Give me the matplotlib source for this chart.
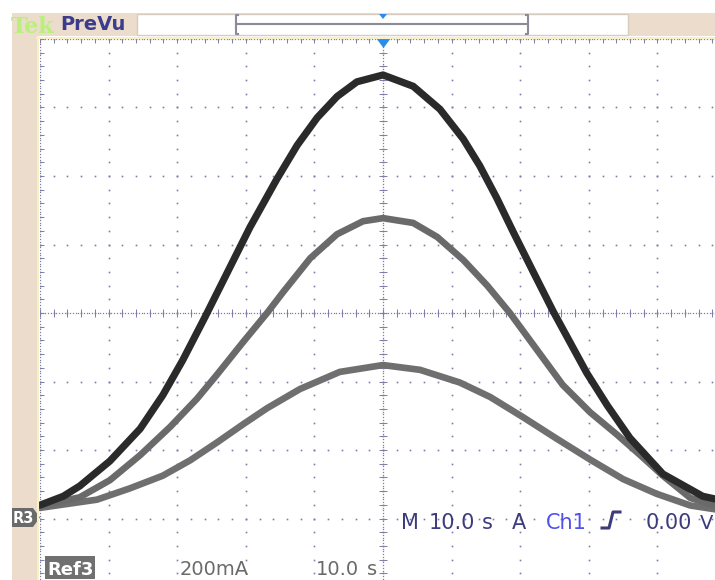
import numpy as np
import matplotlib
matplotlib.use('Agg')
import matplotlib.pyplot as plt
from matplotlib.patches import Rectangle, Polygon

# reference traces, time in s, current in mA (200 mA/div, 10 s/div)
t_black = [0, 3.4, 5.8, 10.2, 14.6, 17.9, 20.8, 24.1, 28.1, 30.6, 34.5, 37.5, 40.4,
           43.3, 46.2, 50.0, 54.4, 58.3, 61.7, 64.1, 66.6, 68.9, 71.9, 74.8, 79.7,
           82.7, 86.0, 90.8, 96.6, 100]
i_black = [39, 65, 95, 168, 262, 360, 462, 590, 750, 850, 990, 1090, 1170,
           1232, 1275, 1295, 1262, 1195, 1108, 1030, 935, 840, 720, 605, 425,
           330, 235, 130, 65, 50]

t_mid = [0, 5.8, 10.2, 14.6, 19.0, 22.9, 25.8, 29.6, 33.1, 35.4, 39.4, 43.3, 47.1,
         50.0, 54.4, 57.9, 61.7, 65.2, 68.5, 72.9, 76.2, 80.2, 84.1, 87.5,
         90.8, 94.8, 100]
i_mid = [36, 62, 112, 185, 268, 350, 420, 515, 600, 660, 760, 830, 868,
         877, 863, 822, 755, 680, 600, 480, 390, 310, 245, 185,
         125, 60, 28]

t_low = [0, 8.3, 13.1, 17.9, 21.9, 25.8, 29.6, 33.1, 37.9, 43.7, 50.0, 55.4, 61.2,
         65.6, 70.4, 75.4, 80.2, 85.0, 89.9, 94.8, 100]
i_low = [31, 55, 88, 125, 170, 222, 275, 322, 378, 428, 448, 434, 397,
         355, 296, 232, 172, 115, 72, 38, 22]

beige = '#ecdccb'
dot = '#7c7cac'
txt_blue = '#3c3c7c'
txt_gray = '#6a6a6a'

fig = plt.figure(figsize=(7.15, 5.8), dpi=100)

# graticule axes: 10 div x 8 div, ground of Ref3 three divisions below centre
ax = fig.add_axes([40/715, -7/580, 686/715, 548/580])
ax.set_xlim(0, 100)
ax.set_ylim(-200, 1400)
ax.axis('off')

# dotted grid
for tv in np.arange(0, 101, 10):
    yy = np.arange(-200, 1401, 40)
    ax.plot(np.full(yy.shape, tv), yy, ls='none', marker='s', ms=1.2, mew=0, color=dot, zorder=1)
for iv in np.arange(-200, 1401, 200):
    xx = np.arange(0, 101, 2)
    ax.plot(xx, np.full(xx.shape, iv), ls='none', marker='s', ms=1.2, mew=0, color=dot, zorder=1)

# centre cross and border lines, denser with minor ticks
xx = np.arange(0, 100.1, 0.4)
yy = np.arange(-200, 1400.1, 8)
for iv in [600, 1400]:
    ax.plot(xx, np.full(xx.shape, iv), ls='none', marker='s', ms=0.9, mew=0, color=dot, zorder=1)
for tv in [0, 50]:
    ax.plot(np.full(yy.shape, tv), yy, ls='none', marker='s', ms=0.9, mew=0, color=dot, zorder=1)
mx = np.arange(0, 100.1, 2)
my = np.arange(-200, 1400.1, 40)
ax.vlines(mx, 588, 612, color=dot, lw=0.7, zorder=1)
ax.hlines(my, 49.4, 50.6, color=dot, lw=0.7, zorder=1)
ax.vlines(mx, 1388, 1400, color=dot, lw=0.7, zorder=1)
ax.hlines(my, 0, 0.6, color=dot, lw=0.7, zorder=1)

# traces
ax.plot(t_low, i_low, color='#6f6f6f', lw=4.8, solid_joinstyle='round', solid_capstyle='round', zorder=3, clip_on=False)
ax.plot(t_mid, i_mid, color='#6a6a6a', lw=4.8, solid_joinstyle='round', solid_capstyle='round', zorder=4, clip_on=False)
ax.plot(t_black, i_black, color='#2a2a2a', lw=5.2, solid_joinstyle='round', solid_capstyle='round', zorder=5, clip_on=False)

# decoration layer in pixel coordinates
bg = fig.add_axes([0, 0, 1, 1], zorder=3)
bg.set_xlim(0, 715)
bg.set_ylim(580, 0)
bg.axis('off')

bg.add_patch(Rectangle((12, 13), 703, 23, color=beige, lw=0))
bg.add_patch(Rectangle((12, 13), 25, 567, color=beige, lw=0))
bg.plot([37, 715], [37.5, 37.5], color='#f6f0c4', lw=1.5)
bg.plot([38, 38], [37, 580], color='#f6f0c4', lw=1.5)
bg.add_patch(Rectangle((137, 14), 491, 21, facecolor='white', edgecolor='#d8ccc0', lw=1))

# record view bracket
bg.plot([236, 528], [24, 24], color='#8a8a98', lw=1.5)
bg.plot([238, 236, 236, 238], [15, 15, 34, 34], color='#8a8a98', lw=1.5)
bg.plot([526, 528, 528, 526], [15, 15, 34, 34], color='#8a8a98', lw=1.5)
bg.add_patch(Polygon([(379, 14), (387, 14), (383, 19)], color='#2a8cf0', lw=0))
bg.add_patch(Polygon([(376, 38), (391, 38), (383.5, 48)], color='#2a8cf0', lw=0))

bg.text(11, 33, 'Tek', color='#b8f07a', fontsize=16, family='DejaVu Serif', weight='bold', va='baseline')
bg.text(60, 30, 'PreVu', color='#3c3c8c', fontsize=14, weight='bold', va='baseline')

# R3 ground marker
bg.add_patch(Polygon([(12, 508), (33, 508), (40, 517.5), (33, 527), (12, 527)], color='#6a6a6a', lw=0))
bg.text(13, 523, 'R3', color='white', fontsize=10.5, weight='bold', va='baseline')

# bottom readouts
bg.add_patch(Rectangle((45, 556), 50, 23, color='#707070', lw=0))
bg.text(47, 575, 'Ref3', color='white', fontsize=13, weight='bold', va='baseline')
bg.text(180, 575, '200mA', color=txt_gray, fontsize=14, va='baseline')
bg.text(316, 575, '10.0', color=txt_gray, fontsize=14, va='baseline')
bg.text(367, 575, 's', color=txt_gray, fontsize=14, va='baseline')

bg.text(401, 529, 'M', color=txt_blue, fontsize=15, va='baseline')
bg.text(429, 529, '10.0', color=txt_blue, fontsize=15, va='baseline')
bg.text(482, 529, 's', color=txt_blue, fontsize=15, va='baseline')
bg.text(512, 529, 'A', color=txt_blue, fontsize=15, va='baseline')
bg.text(546, 529, 'Ch1', color='#5050f0', fontsize=15, va='baseline')
bg.plot([602, 609, 613, 620], [528, 528, 512, 512], color=txt_blue, lw=2.2)
bg.text(646, 529, '0.00', color=txt_blue, fontsize=15, va='baseline')
bg.text(700, 529, 'V', color=txt_blue, fontsize=14, va='baseline')

fig.savefig('out.png', dpi=100)
